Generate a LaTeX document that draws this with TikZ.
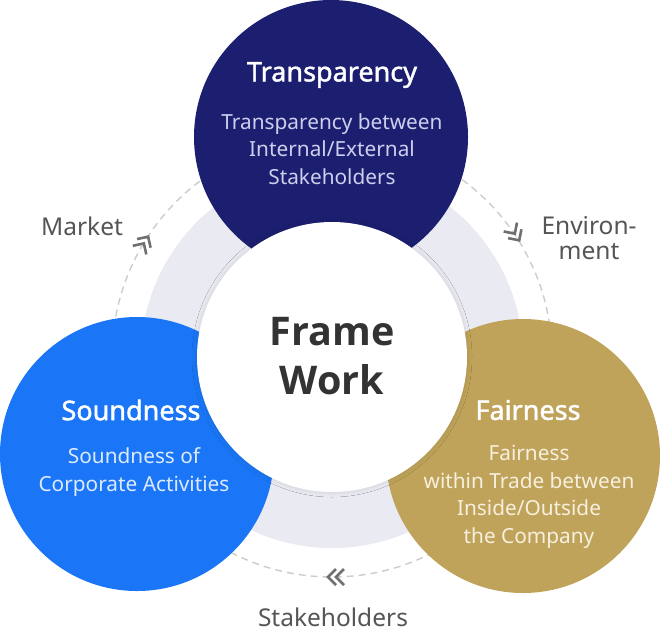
\documentclass[tikz,border=0pt]{standalone}
\usepackage{fontspec}
\setmainfont{Noto Sans}
\newfontfamily\heavy{Open Sans}
\newfontfamily\medf{Noto Sans}[FakeBold=1.6]
\usetikzlibrary{shadows.blur}
\definecolor{navyc}{HTML}{1C1F70}
\definecolor{bluec}{HTML}{1A76F6}
\definecolor{goldc}{HTML}{BFA35A}
\definecolor{ringc}{HTML}{E9EAF2}
\definecolor{dashc}{HTML}{CCCCCC}
\definecolor{labc}{HTML}{555555}
\definecolor{chevc}{HTML}{707070}
\definecolor{fwc}{HTML}{333333}
\definecolor{navysub}{HTML}{CDCFEE}
\definecolor{bluesub}{HTML}{DCEAFF}
\definecolor{goldsub}{HTML}{F7F0DE}
\tikzset{
  bigcirc/.style={circle, inner sep=0pt, minimum size=274pt},
  ttl/.style={text=white, font=\medf\bfseries\fontsize{27}{30}\selectfont, inner sep=0pt},
  sub/.style={align=center, font=\fontsize{20.8}{27.5}\selectfont, inner sep=0pt},
  lab/.style={text=labc, align=center, font=\fontsize{24.5}{24}\selectfont, inner sep=0pt},
  chevline/.style={draw=chevc, line width=2.6pt},
  chev/.pic={\draw[chevline] (-12,-8) -- (-4,0) -- (-12,8); \draw[chevline] (-4,-8) -- (4,0) -- (-4,8);}
}
\begin{document}
\begin{tikzpicture}[x=1pt,y=-1pt]
\useasboundingbox (0,0) rectangle (660,633);
\coordinate (c) at (332,357);
% dashed orbit
\draw[dashc, line width=1.4pt, dash pattern=on 7pt off 5pt] (c) circle (220);
% grey ring
\fill[ringc] (c) circle (191);
% chevrons
\pic[rotate=57.5] at (146,240) {chev};
\pic[rotate=-56.3] at (517,237) {chev};
\pic[rotate=180] at (332,577) {chev};
% coloured circles
\node[bigcirc, fill=navyc] (top) at (331,137) {};
\node[bigcirc, fill=bluec] (left) at (137,454) {};
\node[bigcirc, fill=goldc] (right) at (523,456) {};
% centre
\node[circle, inner sep=0pt, minimum size=270pt, fill=white,
      blur shadow={shadow xshift=0pt, shadow yshift=0pt, shadow blur radius=5pt, shadow opacity=12}] (mid) at (c) {};
\node[text=fwc, align=center, font=\heavy\bfseries\fontsize{39.5}{49}\selectfont, inner sep=0pt] (fw) at (332,356) {Frame\\Work};
% texts
\node[ttl] (t1) at (332,75) {Transparency};
\node[sub, text=navysub] (s1) at (332,149) {Transparency between\\Internal/External\\Stakeholders};
\node[ttl] (t2) at (131,410) {Soundness};
\node[sub, text=bluesub] (s2) at (134,472) {Soundness of\\Corporate Activities};
\node[ttl] (t3) at (528,410) {Fairness};
\node[sub, text=goldsub] (s3) at (529,497) {Fairness\\within Trade between\\Inside/Outside\\the Company};
% outer labels
\node[lab] (m) at (82,226) {Market};
\node[lab, font=\fontsize{24.5}{25}\selectfont] (e) at (589,238) {Environ-\\ment};
\node[lab] (st) at (333,617) {Stakeholders};
\end{tikzpicture}
\end{document}
